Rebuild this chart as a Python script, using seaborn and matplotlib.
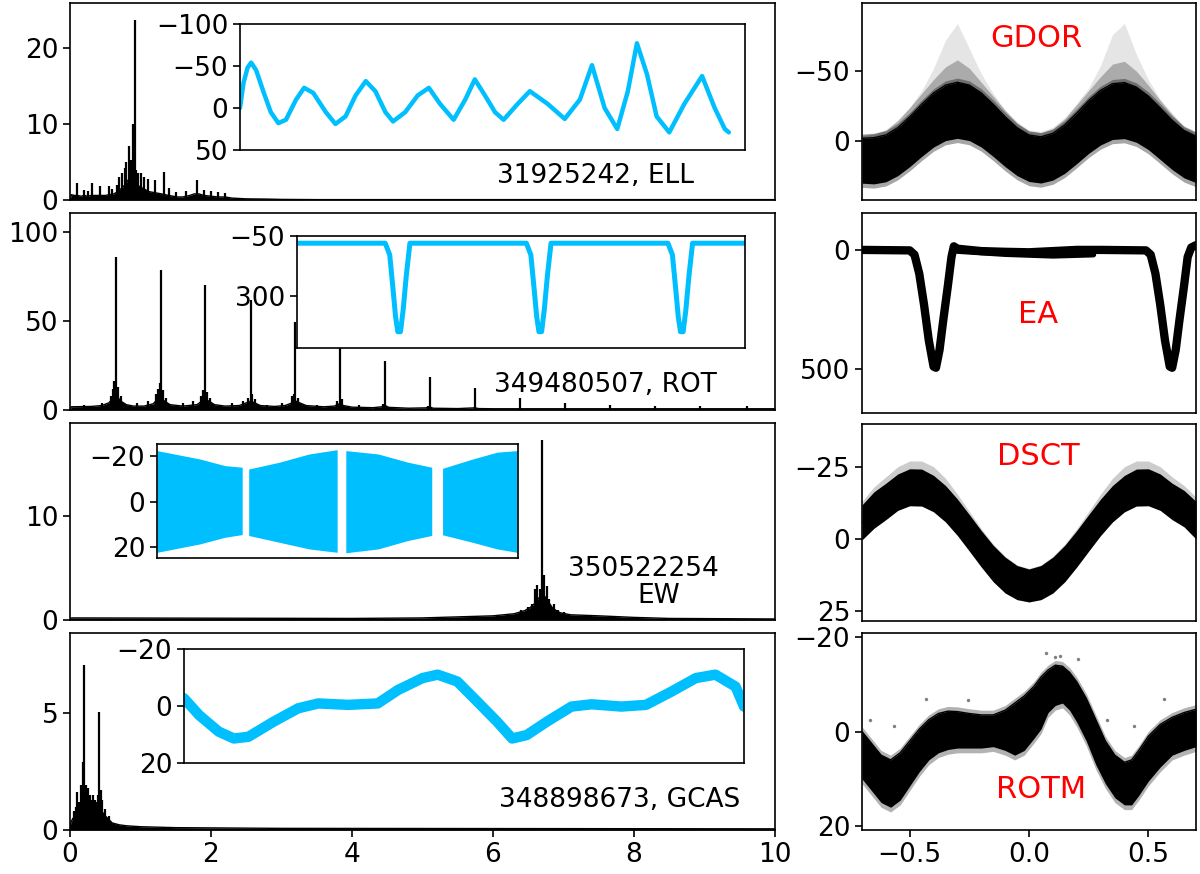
import numpy as np
import matplotlib
matplotlib.use("Agg")
import matplotlib.pyplot as plt
import seaborn as sns

sns.set_theme(style="ticks")
plt.rcParams['font.family'] = ['DejaVu Sans']
plt.rcParams.update({
    'axes.edgecolor': 'black', 'axes.linewidth': 1.2,
    'xtick.major.size': 5, 'ytick.major.size': 5,
    'xtick.major.width': 1.2, 'ytick.major.width': 1.2,
    'xtick.color': 'black', 'ytick.color': 'black',
    'xtick.labelsize': 19, 'ytick.labelsize': 19,
})

BLUE = '#00BFFF'

# ---------------- periodograms (left column) ----------------
# row 1: 31925242, ELL
ell_cf = [0.00, 0.02, 0.06, 0.10, 0.16, 0.20, 0.25, 0.30, 0.38, 0.44, 0.50, 0.56,
          0.62, 0.66, 0.70, 0.74, 0.78, 0.82, 0.86, 0.90, 0.94, 0.98, 1.02,
          1.08, 1.12, 1.18, 1.24, 1.30, 1.40, 1.46, 1.52, 1.60, 1.70, 1.76, 1.83, 1.90, 2.00,
          2.10, 2.20, 2.30, 2.50, 2.80, 3.00, 3.50, 10.0]
ell_cp = [0.0, 0.7, 0.6, 0.6, 0.5, 0.6, 0.5, 0.6, 0.6, 0.6, 0.6, 0.7,
          0.8, 1.0, 1.3, 1.6, 2.0, 2.6, 2.8, 2.6, 2.2, 1.8, 1.6,
          1.3, 1.1, 1.0, 0.9, 0.8, 0.6, 0.5, 0.4, 0.4, 0.6, 0.8, 0.8, 0.6, 0.5,
          0.4, 0.4, 0.25, 0.15, 0.12, 0.08, 0.05, 0.05]
ell_sf = [0.095, 0.20, 0.25, 0.31, 0.43, 0.55, 0.60, 0.66, 0.70, 0.74, 0.78, 0.80, 0.83, 0.85, 0.86,
          0.89, 0.915, 0.94, 0.96, 1.00, 1.05, 1.10, 1.20, 1.33, 1.40, 1.50, 1.65, 1.80, 1.90,
          2.00, 2.10, 2.20]
ell_sp = [2.2, 1.3, 1.2, 2.3, 1.8, 1.8, 1.5, 2.0, 3.0, 3.5, 4.2, 5.0, 7.1, 4.8, 5.3,
          10.0, 23.7, 4.0, 3.6, 3.5, 3.0, 2.8, 2.6, 3.7, 1.6, 1.1, 1.2, 2.6, 1.3,
          1.2, 1.0, 0.9]

# row 2: 349480507, ROT
rot_cf = [0.0, 0.02, 0.30, 0.45, 0.55, 0.60, 0.66, 0.72, 0.80, 0.90, 1.05, 1.18, 1.24, 1.29,
          1.34, 1.42, 1.60, 1.80, 1.87, 1.92, 1.97, 2.05, 2.20, 2.40, 2.50, 2.56, 2.62, 2.70, 2.90, 3.05,
          3.15, 3.20, 3.26, 3.35, 3.60, 3.75, 3.82, 3.88, 4.00, 4.30, 4.42, 4.47, 4.52, 4.80, 5.05, 5.10,
          5.15, 5.50, 5.74, 5.80, 6.00, 7.00, 8.00, 10.0]
rot_cp = [0, 1.8, 2.0, 2.5, 4, 6, 8, 5, 3, 2.2, 2.2, 3.5, 6, 7,
          5, 3, 2.2, 3, 5, 6, 5, 3, 2.2, 2.5, 4, 5, 4, 2.5, 2.0, 2.5,
          4, 5, 4, 2.5, 1.8, 2.2, 3.5, 2.5, 1.6, 1.3, 1.8, 2.5, 1.5, 1.0, 1.2, 1.8,
          1.0, 0.8, 1.2, 0.8, 0.7, 0.7, 0.7, 0.7]
rot_sf = [0.652, 1.286, 1.915, 2.563, 3.196, 3.830, 4.468, 5.106, 5.745, 6.38, 7.02, 7.66, 8.30, 8.94, 9.60,
          0.20, 0.45, 0.58, 0.61, 0.63, 0.68, 0.72, 0.95, 1.10, 1.22, 1.25, 1.27, 1.32, 1.36, 1.60, 1.75,
          1.86, 1.89, 1.95, 1.98, 2.30, 2.45, 2.52, 2.58, 2.62, 2.80, 3.00, 3.15, 3.18, 3.23, 3.50, 3.79,
          3.86, 4.10, 4.44, 5.08]
rot_sp = [86, 78.6, 70, 61.8, 49.4, 35, 27.7, 18.7, 12.3, 6.7, 4.1, 2.8, 2.2, 2.0, 2.2,
          3, 4, 8, 12, 16.5, 13, 8, 4, 5, 9, 12, 15, 11, 7, 4, 5,
          8, 11, 10, 7, 4, 5, 7, 9, 6, 3, 4, 8, 9, 7, 3, 5,
          6, 3, 3.5, 2.5]

# row 3: 350522254, EW
ew_cf = [0.0, 0.02, 4.0, 5.0, 5.5, 6.0, 6.3, 6.45, 6.55, 6.62, 6.70, 6.78, 6.85, 6.95, 7.10, 7.50, 8.00, 8.50, 10.0]
ew_cp = [0.0, 0.2, 0.15, 0.2, 0.3, 0.4, 0.6, 0.9, 1.3, 1.8, 2.6, 1.8, 1.1, 0.7, 0.5, 0.4, 0.25, 0.15, 0.1]
ew_sf = [6.40, 6.50, 6.55, 6.60, 6.62, 6.66, 6.70, 6.72, 6.76, 6.80, 6.86, 6.92, 7.00]
ew_sp = [1.0, 1.2, 1.5, 3.0, 3.4, 3.0, 17.3, 4.3, 3.3, 2.0, 1.5, 1.0, 0.8]

# row 4: 348898673, GCAS
gc_cf = [0.0, 0.01, 0.04, 0.06, 0.09, 0.12, 0.15, 0.18, 0.21, 0.25, 0.28, 0.32, 0.36, 0.40, 0.45, 0.50,
         0.55, 0.60, 0.70, 0.80, 1.00, 1.50, 3.00, 10.0]
gc_cp = [0.0, 0.3, 0.5, 0.4, 0.7, 1.0, 1.0, 1.1, 1.0, 1.1, 0.9, 1.0, 0.8, 0.9, 0.8, 0.6,
         0.45, 0.3, 0.22, 0.18, 0.14, 0.1, 0.07, 0.05]
gc_sf = [0.203, 0.22, 0.28, 0.35, 0.416, 0.44, 0.05, 0.08, 0.10, 0.13, 0.15, 0.17, 0.19, 0.24,
         0.26, 0.30, 0.33, 0.38, 0.40, 0.46, 0.50, 0.55]
gc_sp = [7.05, 1.9, 1.5, 1.3, 5.03, 1.7, 0.8, 1.0, 1.6, 1.2, 1.9, 1.6, 2.9, 1.6,
         1.8, 1.3, 1.5, 1.2, 1.5, 1.3, 0.9, 0.6]

# ---------------- light curves (insets) ----------------
ell_t = [0.0, 0.007, 0.015, 0.022, 0.032, 0.046, 0.061, 0.076, 0.091, 0.111, 0.127, 0.145, 0.170, 0.189,
         0.209, 0.229, 0.249, 0.268, 0.288, 0.303, 0.327, 0.352, 0.374, 0.396, 0.423, 0.446, 0.465, 0.485,
         0.505, 0.522, 0.550, 0.574, 0.609, 0.643, 0.673, 0.697, 0.722, 0.747, 0.768, 0.786, 0.806, 0.825,
         0.850, 0.880, 0.915, 0.940, 0.960, 0.968]
ell_mag = [0, -30, -48, -54, -45, -20, 5, 18, 14, -10, -24, -18, 5, 19,
           10, -15, -32, -20, 5, 16, 5, -15, -24, -5, 14, -10, -34, -15,
           5, 14, -5, -20, -5, 13, -10, -51, 0, 25, -20, -77, -40, 10,
           29, -5, -38, 0, 25, 29]

rot_t = [0.0, 0.197, 0.207, 0.214, 0.220, 0.225, 0.231, 0.237, 0.244, 0.252,
         0.512, 0.522, 0.529, 0.535, 0.540, 0.546, 0.552, 0.559, 0.567,
         0.828, 0.838, 0.845, 0.851, 0.856, 0.862, 0.868, 0.875, 0.883, 1.0]
rot_mag = [-8, -8, 60, 250, 420, 508, 508, 380, 180, -8,
           -8, 60, 250, 420, 508, 508, 380, 180, -8,
           -8, 60, 250, 420, 508, 508, 380, 180, -8, -8]

ew_seg = [0, 0, 0, 0, 1, 1, 1, 1, 2, 2, 2, 2, 3, 3, 3, 3]
ew_t = [0.0, 0.119, 0.188, 0.236, 0.254, 0.339, 0.421, 0.499,
        0.523, 0.613, 0.695, 0.761, 0.791, 0.874, 0.942, 0.997]
ew_top = [-22.4, -18.7, -15.8, -15.1, -14.3, -17.3, -20.9, -22.8,
          -22.4, -20.9, -17.3, -15.1, -14.6, -18.7, -21.7, -22.4]
ew_bot = [22.3, 18.6, 15.7, 14.5, 14.9, 17.9, 20.8, 22.3,
          22.5, 20.8, 17.1, 14.9, 14.6, 17.9, 20.8, 22.3]

gc_t = [0.0, 0.027, 0.062, 0.089, 0.115, 0.160, 0.204, 0.240, 0.293, 0.346, 0.382, 0.426, 0.453, 0.488,
        0.524, 0.559, 0.586, 0.612, 0.648, 0.692, 0.728, 0.781, 0.825, 0.870, 0.914, 0.949, 0.985, 1.0]
gc_mag = [-2.7, 3.2, 9.0, 11.4, 10.8, 5.5, 0.8, -0.9, -0.4, -0.9, -5.6, -9.8, -11.0, -8.6,
          -1.5, 5.5, 11.4, 10.2, 5.5, 0.2, -0.6, 0.2, -0.4, -5.0, -9.8, -11.0, -6.8, 0.2]

# ---------------- phase-folded curves (right column) ----------------
ph29 = [-0.70, -0.65, -0.60, -0.55, -0.50, -0.45, -0.40, -0.35, -0.30, -0.25, -0.20, -0.15, -0.10, -0.05,
        0.00, 0.05, 0.10, 0.15, 0.20, 0.25, 0.30, 0.35, 0.40, 0.45, 0.50, 0.55, 0.60, 0.65, 0.70]
gdor_top = [-2.0, -2.5, -4.4, -9.6, -17.4, -26.3, -34.4, -40.0, -42.0, -40.0, -34.4, -26.3, -17.4, -9.6,
            -4.4, -3.1, -5.6, -11.7, -20.0, -28.9, -36.3, -41.0, -41.8, -38.6, -32.2, -23.7, -14.9, -7.6, -3.5]
gdor_bot = [30.0, 30.5, 29.0, 24.6, 18.2, 10.9, 4.2, -0.4, -2.0, -0.4, 4.2, 10.9, 18.2, 24.6,
            28.8, 29.9, 27.8, 22.9, 16.0, 8.7, 2.7, -1.2, -1.8, 0.8, 6.0, 13.1, 20.3, 26.2, 29.6]
gdor_fuzz = [-4, -5, -8, -15, -24, -34, -44, -53, -58, -52, -42, -32, -22, -13,
             -7, -6, -9, -16, -26, -36, -46, -55, -57, -50, -40, -29, -19, -10, -6]
gdor_spray = [-5, -6, -8, -14, -24, -36, -52, -72, -84, -66, -48, -34, -22, -14,
              -8, -7, -10, -17, -27, -38, -54, -76, -84, -62, -44, -30, -20, -11, -7]

ea_ph = [-0.70, -0.50, -0.48, -0.46, -0.44, -0.42, -0.40, -0.39, -0.375, -0.36, -0.34, -0.325, -0.315, -0.30,
         -0.20, -0.10, 0.00, 0.10, 0.20, 0.30, 0.49, 0.51, 0.53, 0.55, 0.57, 0.59, 0.60, 0.615, 0.63,
         0.65, 0.665, 0.68, 0.70]
ea_mag = [0, 2, 20, 100, 230, 380, 490, 495, 420, 300, 150, 30, -15, -5,
          5, 8, 10, 5, 0, 0, 2, 20, 100, 230, 380, 490, 495, 420, 300,
          150, 30, -10, -20]
ea_sub_ph = [-0.30, -0.10, 0.10, 0.27]
ea_sub_mag = [5, 18, 25, 20]

dsct_mid = [-5.5, -10.0, -13.0, -16.2, -17.8, -17.7, -15.7, -12.2, -7.5, -2.1, 3.4, 8.5, 12.5, 15.1,
            16.0, 15.1, 12.5, 8.5, 3.4, -2.1, -7.5, -12.2, -15.7, -17.7, -17.8, -16.2, -13.0, -10.5, -6.5]
dsct_top = [-11.8, -16.3, -19.3, -22.5, -24.3, -24.2, -22.0, -18.5, -13.8, -8.4, -2.9, 2.2, 6.3, 9.2,
            10.4, 9.2, 6.3, 2.2, -2.9, -8.4, -13.8, -18.5, -22.0, -24.2, -24.3, -22.5, -19.3, -16.8, -13.0]
dsct_bot = [0.3, -3.7, -6.7, -9.9, -11.5, -11.4, -9.4, -5.9, -1.2, 4.2, 9.7, 14.8, 18.7, 21.0,
            21.8, 21.0, 18.7, 14.8, 9.7, 4.2, -1.2, -5.9, -9.4, -11.4, -11.5, -9.9, -6.7, -4.2, 0.0]
dsct_spray = [-13, -18, -21.5, -25, -27, -27, -25, -21, -15.5, -9.5, -3.5, 1.8, 6, 9,
              10.2, 9, 6, 1.8, -3.5, -9.5, -15.5, -21, -25, -27, -27, -25, -21.5, -18.5, -14.5]

rotm_ph = [-0.70, -0.66, -0.62, -0.58, -0.54, -0.50, -0.46, -0.42, -0.38, -0.34, -0.30, -0.25, -0.20,
           -0.15, -0.10, -0.06, -0.02, 0.02, 0.05, 0.08, 0.11, 0.14, 0.17, 0.20, 0.24, 0.28, 0.32, 0.36,
           0.40, 0.43, 0.46, 0.50, 0.55, 0.60, 0.65, 0.70]
rotm_top = [0, 2.5, 5, 6, 4.5, 2, -0.5, -2.5, -3.8, -4.3, -4.2, -3.8, -3.5, -3.5, -4.5, -6, -7.5, -9.5,
            -11.5, -13, -14, -13.8, -12.5, -10.5, -7, -2.5, 2, 5, 6.5, 6, 4, 1, -1.5, -3, -4, -4.7]
rotm_bot = [10, 12.5, 15, 16, 14.5, 11.5, 8.5, 6, 4.5, 3.8, 3.5, 3.5, 3.5, 3.2, 4, 5, 4, 1.5,
            -0.5, -4, -5.5, -6, -4.5, -2, 2, 7, 11, 14, 15.5, 15.5, 13.5, 10.5, 7.5, 5, 4, 3.2]
rotm_out_ph = [-0.668, -0.564, -0.431, -0.257, 0.071, 0.204, 0.329, 0.441, 0.566, 0.11, 0.13]
rotm_out_mag = [-2.5, -1.1, -6.9, -6.6, -16.5, -15.4, -2.4, -1.1, -6.9, -15.8, -16.0]

# ---------------- figure ----------------
fig = plt.figure(figsize=(12, 8.74), dpi=100)
W, H = 1200.0, 874.0
rows_px = [(3, 200), (213, 410), (423, 620), (633, 830)]


def axpos(l, t, r, b):
    return [l / W, 1 - b / H, (r - l) / W, (b - t) / H]


def draw_spec(ax, cf, cp, sf, sp, ymax, yticks):
    ax.fill_between(cf, 0, cp, color='black', lw=0)
    sns.lineplot(x=cf, y=cp, ax=ax, color='black', lw=1.0)
    ax.vlines(sf, 0, sp, color='black', lw=1.6)
    ax.set_xlim(0, 10)
    ax.set_ylim(0, ymax)
    ax.set_yticks(yticks)


specs = [
    (ell_cf, ell_cp, ell_sf, ell_sp, 25.9, [0, 10, 20]),
    (rot_cf, rot_cp, rot_sf, rot_sp, 110.7, [0, 50, 100]),
    (ew_cf, ew_cp, ew_sf, ew_sp, 18.9, [0, 10]),
    (gc_cf, gc_cp, gc_sf, gc_sp, 8.4, [0, 5]),
]
left_axes = []
for i, (cf, cp, sf, sp, ymax, yt) in enumerate(specs):
    t, b = rows_px[i]
    ax = fig.add_axes(axpos(70, t, 775, b))
    draw_spec(ax, cf, cp, sf, sp, ymax, yt)
    if i < 3:
        ax.set_xticks([])
    else:
        ax.set_xticks([0, 2, 4, 6, 8, 10])
    ax.set_xlabel('')
    ax.set_ylabel('')
    left_axes.append(ax)

lab_kw = dict(fontsize=19, color='black', ha='center', va='center', zorder=10)
left_axes[0].text(7.46, 3.2, '31925242, ELL', **lab_kw)
left_axes[1].text(7.59, 14, '349480507, ROT', **lab_kw)
left_axes[2].text(8.14, 4.9, '350522254', **lab_kw)
left_axes[2].text(8.35, 2.3, 'EW', **lab_kw)
left_axes[3].text(7.79, 1.3, '348898673, GCAS', **lab_kw)

# insets
in1 = fig.add_axes(axpos(240, 24, 745, 150), zorder=5)
sns.lineplot(x=ell_t, y=ell_mag, ax=in1, color=BLUE, lw=3.2)
in1.set_xlim(0, 1)
in1.set_ylim(50, -100)
in1.set_yticks([-100, -50, 0, 50])

in2 = fig.add_axes(axpos(297, 236, 745, 348), zorder=5)
sns.lineplot(x=rot_t, y=rot_mag, ax=in2, color=BLUE, lw=3.6, sort=False)
in2.set_xlim(0, 1)
in2.set_ylim(603, -50)
in2.set_yticks([-50, 300])

in3 = fig.add_axes(axpos(157, 444, 518, 558), zorder=5)
seg_arr = np.array(ew_seg)
for s in sorted(set(ew_seg)):
    m = seg_arr == s
    in3.fill_between(np.array(ew_t)[m], np.array(ew_top)[m], np.array(ew_bot)[m],
                     color=BLUE, lw=0)
in3.set_xlim(0, 1)
in3.set_ylim(24.8, -25.3)
in3.set_yticks([-20, 0, 20])

in4 = fig.add_axes(axpos(184, 649, 744, 763), zorder=5)
sns.lineplot(x=gc_t, y=gc_mag, ax=in4, color=BLUE, lw=7.5)
in4.set_xlim(0, 1)
in4.set_ylim(20, -20)
in4.set_yticks([-20, 0, 20])

for a in (in1, in2, in3, in4):
    a.set_xticks([])
    a.set_xlabel('')
    a.set_ylabel('')
    a.set_facecolor('white')

# right column
red_kw = dict(fontsize=22, color='red', ha='center', va='center', zorder=10)

r1 = fig.add_axes(axpos(862, 3, 1196, 200))
r1.fill_between(ph29, gdor_spray, gdor_top, color='black', alpha=0.1, lw=0)
r1.fill_between(ph29, gdor_fuzz, gdor_top, color='black', alpha=0.25, lw=0)
r1.fill_between(ph29, np.array(gdor_top) - 3, np.array(gdor_bot) + 3, color='black', alpha=0.35, lw=0)
r1.fill_between(ph29, gdor_top, gdor_bot, color='black', lw=0)
sns.lineplot(x=ph29, y=gdor_top, ax=r1, color='black', lw=1.0)
r1.set_ylim(42, -98.6)
r1.set_yticks([-50, 0])
r1.text(0.03, -73, 'GDOR', **red_kw)

r2 = fig.add_axes(axpos(862, 213, 1196, 413))
sns.lineplot(x=ea_sub_ph, y=ea_sub_mag, ax=r2, color='black', lw=4)
sns.lineplot(x=ea_ph, y=ea_mag, ax=r2, color='black', lw=6.0)
r2.set_ylim(685, -155)
r2.set_yticks([0, 500])
r2.text(0.04, 273, 'EA', **red_kw)

r3 = fig.add_axes(axpos(862, 424, 1196, 621))
r3.fill_between(ph29, dsct_spray, dsct_bot, color='black', alpha=0.2, lw=0)
r3.fill_between(ph29, dsct_top, dsct_bot, color='black', lw=0)
sns.lineplot(x=ph29, y=dsct_mid, ax=r3, color='black', lw=1.0)
r3.set_ylim(28.4, -39.8)
r3.set_yticks([-25, 0, 25])
r3.text(0.04, -28.4, 'DSCT', **red_kw)

r4 = fig.add_axes(axpos(862, 633, 1196, 830))
r4.fill_between(rotm_ph, np.array(rotm_top) - 1, np.array(rotm_bot) + 1, color='black', alpha=0.3, lw=0)
r4.fill_between(rotm_ph, rotm_top, rotm_bot, color='black', lw=0)
sns.lineplot(x=rotm_ph, y=rotm_top, ax=r4, color='black', lw=1.0)
sns.scatterplot(x=rotm_out_ph, y=rotm_out_mag, ax=r4, color='black', s=6, alpha=0.5, linewidth=0)
r4.set_ylim(20.8, -20.8)
r4.set_yticks([-20, 0, 20])
r4.set_xticks([-0.5, 0.0, 0.5])
r4.text(0.05, 12.3, 'ROTM', **red_kw)

for i, a in enumerate((r1, r2, r3, r4)):
    a.set_xlim(-0.7, 0.7)
    if i < 3:
        a.set_xticks([])
    a.set_xlabel('')
    a.set_ylabel('')

fig.savefig('out.png', dpi=100)
